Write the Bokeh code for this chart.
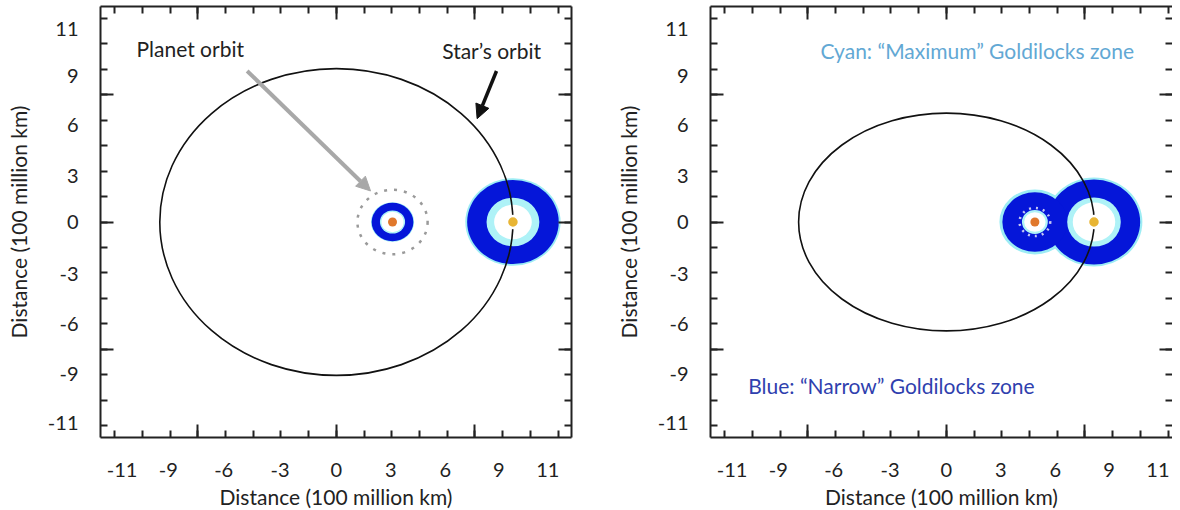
import numpy as np
from bokeh.plotting import figure
from bokeh.layouts import row
from bokeh.models import LinearAxis, FixedTicker, Range1d, Arrow, NormalHead
from bokeh.embed import file_html
from bokeh.resources import INLINE
from bokeh.core.properties import value

FONT = "Lato"
TXT = "#222222"

# ---- axis ticks / labels ----
x_tick_labels = ["-11", "-9", "-6", "-3", "0", "3", "6", "9", "11"]
x_label_pos = [-11.6, -9.1, -6.1, -3.05, 0, 2.95, 5.9, 8.8, 11.45]
y_tick_labels = ["11", "9", "6", "3", "0", "-3", "-6", "-9", "-11"]
y_label_pos = [11.35, 8.6, 5.7, 2.7, 0, -3.05, -6.0, -8.95, -11.85]
minor_tick_pos = [-12, -10.5, -9, -7.5, -6, -4.5, -3, -1.5, 0, 1.5, 3, 4.5, 6, 7.5, 9, 10.5, 12]
major_tick_pos = [-7.5, 0, 7.5]
axis_title = "Distance (100 million km)"

# ---- left panel data ----
L_orbit_a, L_orbit_b = 9.56, 9.04
L_bodies_x = [9.56, 3.04]           # star, planet
L_halo_r = [2.58, 1.17]
L_blue_r = [2.48, 1.13]
L_cyan_r = [1.43, 0.68]
L_white_r = [1.02, 0.60]
L_porbit_r = 1.9
L_texts = ["Planet orbit", "Star\u2019s orbit"]
L_text_x = [-10.82, 5.73]
L_text_y = [10.23, 10.08]
L_arrow_gray = [-4.83, 8.9, 1.85, 1.83]
L_arrow_black = [8.67, 8.9, 7.62, 6.09]

# ---- right panel data ----
R_orbit_a, R_orbit_b = 8.0, 6.42
R_bodies_x = [7.99, 4.79]
R_halo_r = [2.62, 1.92]
R_blue_r = [2.50, 1.76]
R_cyan_r = [1.45, 0.70]
R_white_r = [1.15, 0.58]
R_porbit_r = 0.83
R_texts = ["Cyan: \u201cMaximum\u201d Goldilocks zone", "Blue: \u201cNarrow\u201d Goldilocks zone"]
R_text_x = [-6.82, -10.73]
R_text_y = [10.08, -9.66]
R_text_colors = ["#62a8d4", "#2f3fae"]

HALO = "#9cecf4"
BLUE = "#0516d9"
CYAN_IN = "#aef2f7"
STAR_C = "#e8b534"
PLANET_C = "#e0782c"


def tick_axes(show_line=True):
    # short ticks on every 1.5 step, long ticks every 7.5 - no labels
    short = LinearAxis(
        ticker=FixedTicker(ticks=[], minor_ticks=minor_tick_pos),
        minor_tick_in=7, minor_tick_out=0, minor_tick_line_width=2,
        minor_tick_line_color=TXT, major_tick_line_color=None,
        major_tick_in=0, major_tick_out=0, major_label_standoff=0,
        axis_line_width=2, axis_line_color=TXT if show_line else None,
    )
    long_ = LinearAxis(
        ticker=FixedTicker(ticks=[], minor_ticks=major_tick_pos),
        minor_tick_in=13, minor_tick_out=0, minor_tick_line_width=2,
        minor_tick_line_color=TXT, major_tick_line_color=None,
        major_tick_in=0, major_tick_out=0, major_label_standoff=0,
        axis_line_color=None,
    )
    return short, long_


def label_axis(pos, labels, standoff, title_standoff):
    return LinearAxis(
        ticker=FixedTicker(ticks=pos, minor_ticks=[]),
        major_label_overrides={p: t for p, t in zip(pos, labels)},
        axis_line_color=None, major_tick_line_color=None, minor_tick_line_color=None,
        major_tick_in=0, major_tick_out=0,
        major_label_standoff=standoff,
        major_label_text_font=FONT, major_label_text_font_size="20px",
        major_label_text_color=TXT,
        axis_label=axis_title, axis_label_standoff=title_standoff,
        axis_label_text_font=FONT, axis_label_text_font_size="21px",
        axis_label_text_font_style="normal", axis_label_text_color=TXT,
    )


def make_panel(x_end, frame_w, mb_left, mb_right, show_right_line):
    p = figure(frame_width=frame_w, frame_height=431,
               x_range=Range1d(-12.77, x_end), y_range=Range1d(-12.7, 12.7),
               x_axis_type=None, y_axis_type=None,
               toolbar_location=None, output_backend="svg",
               min_border_left=mb_left, min_border_right=mb_right,
               min_border_top=6, min_border_bottom=0,
               background_fill_color="white", border_fill_color="white")
    p.outline_line_color = None
    for a in tick_axes():
        p.add_layout(a, "below")
    p.add_layout(label_axis(x_label_pos, x_tick_labels, 25, 4), "below")
    for a in tick_axes():
        p.add_layout(a, "left")
    p.add_layout(label_axis(y_label_pos, y_tick_labels, 22, 14), "left")
    for a in tick_axes():
        p.add_layout(a, "above")
    for a in tick_axes(show_right_line):
        p.add_layout(a, "right")
    return p


def draw_zones(p, bx, halo, blue, cyan, white):
    y0 = [0] * len(bx)
    for r, c in [(halo, HALO), (blue, BLUE), (cyan, CYAN_IN), (white, "white")]:
        d = [2 * v for v in r]
        p.ellipse(x=bx, y=y0, width=d, height=d, fill_color=c, line_color=None)


# ---------------- left panel ----------------
p1 = make_panel(12.73, 471, 100, 10, True)
draw_zones(p1, L_bodies_x, L_halo_r, L_blue_r, L_cyan_r, L_white_r)
p1.ellipse(x=[L_bodies_x[1]], y=[0], width=[2 * L_porbit_r], height=[2 * L_porbit_r],
           fill_color=None, line_color="#9a9a9a", line_width=2.5, line_dash="3 7")
p1.ellipse(x=[0], y=[0], width=[2 * L_orbit_a], height=[2 * L_orbit_b],
           fill_color=None, line_color="#111111", line_width=1.6)
p1.scatter(x=[L_bodies_x[0]], y=[0], size=12, fill_color=STAR_C, line_color="white", line_width=2.5)
p1.scatter(x=[L_bodies_x[1]], y=[0], size=9, fill_color=PLANET_C, line_color=None)
p1.text(x=L_text_x, y=L_text_y, text=L_texts, text_font=value(FONT), text_font_size="21px",
        text_color=TXT, text_baseline="middle", text_align="left")
g = L_arrow_gray
p1.add_layout(Arrow(x_start=g[0], y_start=g[1], x_end=g[2], y_end=g[3],
                    line_color="#a8a8a8", line_width=4,
                    end=NormalHead(size=14, fill_color="#a8a8a8", line_color="#a8a8a8")))
b = L_arrow_black
p1.add_layout(Arrow(x_start=b[0], y_start=b[1], x_end=b[2], y_end=b[3],
                    line_color="#111111", line_width=3.5,
                    end=NormalHead(size=14, fill_color="#111111", line_color="#111111")))

# ---------------- right panel ----------------
p2 = make_panel(12.24, 462, 129, 0, False)
draw_zones(p2, R_bodies_x, R_halo_r, R_blue_r, R_cyan_r, R_white_r)
p2.ellipse(x=[R_bodies_x[1]], y=[0], width=[2 * R_porbit_r], height=[2 * R_porbit_r],
           fill_color=None, line_color="#c4c6f4", line_width=2.5, line_dash="2 5")
p2.ellipse(x=[0], y=[0], width=[2 * R_orbit_a], height=[2 * R_orbit_b],
           fill_color=None, line_color="#111111", line_width=1.6)
p2.scatter(x=[R_bodies_x[0]], y=[0], size=12, fill_color=STAR_C, line_color="white", line_width=2.5)
p2.scatter(x=[R_bodies_x[1]], y=[0], size=9, fill_color=PLANET_C, line_color=None)
p2.text(x=R_text_x, y=R_text_y, text=R_texts, text_font=value(FONT), text_font_size="21px",
        text_color=R_text_colors, text_baseline="middle", text_align="left")

layout = row(p1, p2)
open("out.html", "w").write(file_html(layout, INLINE))
